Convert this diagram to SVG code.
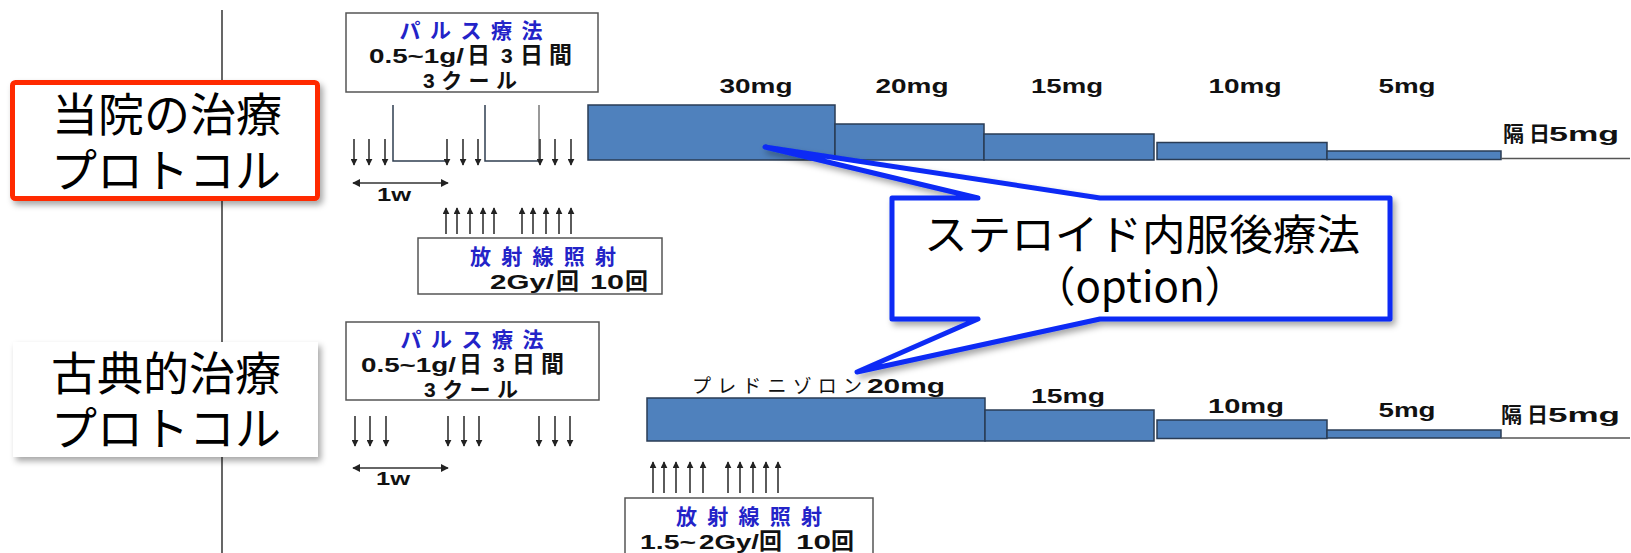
<svg xmlns="http://www.w3.org/2000/svg" width="1631" height="553" viewBox="0 0 1631 553">
<defs>
<style>
.big{font-family:"Noto Sans CJK JP","Noto Sans",sans-serif;font-size:46px;fill:#000;text-anchor:middle}
.call{font-family:"Noto Sans CJK JP","Noto Sans",sans-serif;font-size:42px;fill:#000;text-anchor:middle}
.lb{font-family:"Liberation Sans","Noto Sans CJK JP",sans-serif;font-weight:bold;font-size:21px;fill:#111;text-anchor:middle}
.mg{font-family:"Liberation Sans","Noto Sans CJK JP",sans-serif;font-weight:bold;font-size:20px;fill:#111;text-anchor:middle}
.lbs{font-family:"Liberation Sans","Noto Sans CJK JP",sans-serif;font-weight:bold;font-size:21px;fill:#111}
.cj{font-size:23px}
.jb{font-family:"Noto Sans CJK JP","Liberation Sans",sans-serif;font-weight:bold;font-size:21px;fill:#2323c8;text-anchor:middle}
.jr{font-family:"Noto Sans CJK JP",sans-serif;font-size:19px;fill:#111}
.box{fill:#fff;stroke:#555;stroke-width:1.5}
.bar{fill:#4f81bd;stroke:#2a3c55;stroke-width:1.5}
.base{stroke:#555;stroke-width:1.5;fill:none}
.arr{stroke:#333;stroke-width:1.6;fill:none}
.step{stroke:#2f3e50;stroke-width:1.5;fill:none}
</style>
<marker id="ah" viewBox="0 0 10 10" refX="9" refY="5" markerWidth="7" markerHeight="7" markerUnits="userSpaceOnUse" orient="auto">
<path d="M0,0 L10,5 L0,10 Z" fill="#222"/>
</marker>
<marker id="ah2" viewBox="0 0 10 10" refX="9" refY="5" markerWidth="8" markerHeight="8" markerUnits="userSpaceOnUse" orient="auto-start-reverse">
<path d="M0,0 L10,5 L0,10 Z" fill="#222"/>
</marker>
<filter id="sh" x="-10%" y="-20%" width="125%" height="150%">
<feDropShadow dx="3" dy="4" stdDeviation="3" flood-color="#000" flood-opacity="0.35"/>
</filter>
</defs>
<rect width="1631" height="553" fill="#fff"/>
<line x1="222" y1="10" x2="222" y2="553" stroke="#000" stroke-width="1.2"/>

<g id="label-current">
<rect x="12.5" y="82.5" width="305" height="116" rx="3" fill="#fff" stroke="#ff2a00" stroke-width="5" filter="url(#sh)"/>
<text class="big" x="167" y="131">当院の治療</text>
<text class="big" x="166" y="187">プロトコル</text>
</g>
<g id="label-classic">
<rect x="13" y="342" width="305" height="115" fill="#fff" filter="url(#sh)"/>
<text class="big" x="166" y="390">古典的治療</text>
<text class="big" x="166" y="445">プロトコル</text>
</g>

<g id="pulse-upper">
<rect class="box" x="346" y="13" width="252" height="79"/>
<text class="jb" x="471" y="38" textLength="143" lengthAdjust="spacing">パルス療法</text>
<text class="lbs" y="63"><tspan x="369" textLength="95" lengthAdjust="spacingAndGlyphs">0.5~1g/</tspan><tspan class="cj" x="467">日</tspan><tspan x="501">3</tspan><tspan class="cj" x="520">日</tspan><tspan class="cj" x="549">間</tspan></text>
<text class="lb" x="470" y="88" textLength="94" lengthAdjust="spacing">3クール</text>
</g>
<g id="pulse-lower">
<rect class="box" x="346" y="322" width="253" height="78"/>
<text class="jb" x="472" y="347" textLength="143" lengthAdjust="spacing">パルス療法</text>
<text class="lbs" y="372"><tspan x="361" textLength="95" lengthAdjust="spacingAndGlyphs">0.5~1g/</tspan><tspan class="cj" x="459">日</tspan><tspan x="493">3</tspan><tspan class="cj" x="512">日</tspan><tspan class="cj" x="541">間</tspan></text>
<text class="lb" x="471" y="397" textLength="94" lengthAdjust="spacing">3クール</text>
</g>

<g id="radiation-upper">
<rect class="box" x="418" y="238" width="244" height="56"/>
<text class="jb" x="543" y="264" textLength="146" lengthAdjust="spacing">放射線照射</text>
<text class="lbs" y="289"><tspan x="490" textLength="64" lengthAdjust="spacingAndGlyphs">2Gy/</tspan><tspan class="cj" x="556">回</tspan><tspan x="590" textLength="34" lengthAdjust="spacingAndGlyphs">10</tspan><tspan class="cj" x="625">回</tspan></text>
</g>
<g id="radiation-lower">
<rect class="box" x="625" y="498" width="248" height="70"/>
<text class="jb" x="749" y="524" textLength="146" lengthAdjust="spacing">放射線照射</text>
<text class="lbs" y="549"><tspan x="640" textLength="56" lengthAdjust="spacingAndGlyphs">1.5~</tspan><tspan x="699" textLength="60" lengthAdjust="spacingAndGlyphs">2Gy/</tspan><tspan class="cj" x="759">回</tspan><tspan x="796" textLength="35" lengthAdjust="spacingAndGlyphs">10</tspan><tspan class="cj" x="831">回</tspan></text>
</g>

<g id="steroid-upper">
<rect class="bar" x="588" y="105" width="247" height="55"/>
<rect class="bar" x="835" y="124" width="149" height="36"/>
<rect class="bar" x="984" y="134" width="170" height="26"/>
<rect class="bar" x="1157" y="142.5" width="170" height="17"/>
<rect class="bar" x="1327" y="151" width="174" height="8.5"/>
<line class="base" x1="1501" y1="158.5" x2="1630" y2="158.5"/>
<text class="mg" x="756" y="93" textLength="73" lengthAdjust="spacingAndGlyphs">30mg</text>
<text class="mg" x="912" y="93" textLength="73" lengthAdjust="spacingAndGlyphs">20mg</text>
<text class="mg" x="1067" y="93" textLength="72" lengthAdjust="spacingAndGlyphs">15mg</text>
<text class="mg" x="1245" y="93" textLength="73" lengthAdjust="spacingAndGlyphs">10mg</text>
<text class="mg" x="1407" y="93" textLength="57" lengthAdjust="spacingAndGlyphs">5mg</text>
<text class="lbs" y="141"><tspan x="1503">隔</tspan><tspan x="1529">日</tspan><tspan x="1549" textLength="70" lengthAdjust="spacingAndGlyphs">5mg</tspan></text>
</g>
<g id="steroid-lower">
<rect class="bar" x="647" y="398" width="338" height="43"/>
<rect class="bar" x="985" y="410" width="169" height="31"/>
<rect class="bar" x="1157" y="420" width="170" height="18.5"/>
<rect class="bar" x="1327" y="430" width="174" height="8"/>
<line class="base" x1="1501" y1="438" x2="1630" y2="438"/>
<text class="jr" x="692" y="393" textLength="170" lengthAdjust="spacing">プレドニゾロン</text>
<text class="mg" x="906" y="393" textLength="78" lengthAdjust="spacingAndGlyphs">20mg</text>
<text class="mg" x="1068" y="403" textLength="74" lengthAdjust="spacingAndGlyphs">15mg</text>
<text class="mg" x="1246" y="413" textLength="76" lengthAdjust="spacingAndGlyphs">10mg</text>
<text class="mg" x="1407" y="417" textLength="57" lengthAdjust="spacingAndGlyphs">5mg</text>
<text class="lbs" y="422"><tspan x="1501">隔</tspan><tspan x="1527">日</tspan><tspan x="1548" textLength="72" lengthAdjust="spacingAndGlyphs">5mg</tspan></text>
</g>

<g id="callout">
<path d="M892,198 L978,198 L765,147 L1100,198 L1390,198 L1390,319 L1100,319 L857,372 L978,319 L892,319 Z" fill="#fff" stroke="#0a2cf5" stroke-width="5" stroke-linejoin="round" filter="url(#sh)"/>
<text class="call" x="1142" y="250" textLength="436" lengthAdjust="spacingAndGlyphs">ステロイド内服後療法</text>
<text class="call" x="1140" y="302">（option）</text>
</g>

<g id="connectors">
<g class="step">
<path d="M393,105 V161 H447"/>
<path d="M485,105 V161 H539"/>
<path d="M539,105 V161" stroke="#777"/>
</g>
<g class="arr" marker-end="url(#ah)">
<line x1="354" y1="139" x2="354" y2="165"/>
<line x1="369" y1="139" x2="369" y2="165"/>
<line x1="385" y1="139" x2="385" y2="165"/>
<line x1="447" y1="139" x2="447" y2="165"/>
<line x1="463" y1="139" x2="463" y2="165"/>
<line x1="478" y1="139" x2="478" y2="165"/>
<line x1="540" y1="139" x2="540" y2="165"/>
<line x1="555" y1="139" x2="555" y2="165"/>
<line x1="571" y1="139" x2="571" y2="165"/>
<line x1="446" y1="234" x2="446" y2="208"/>
<line x1="457" y1="234" x2="457" y2="208"/>
<line x1="470" y1="234" x2="470" y2="208"/>
<line x1="483" y1="234" x2="483" y2="208"/>
<line x1="494" y1="234" x2="494" y2="208"/>
<line x1="522" y1="234" x2="522" y2="208"/>
<line x1="533" y1="234" x2="533" y2="208"/>
<line x1="546" y1="234" x2="546" y2="208"/>
<line x1="559" y1="234" x2="559" y2="208"/>
<line x1="571" y1="234" x2="571" y2="208"/>
<line x1="355" y1="416" x2="355" y2="446"/>
<line x1="370" y1="416" x2="370" y2="446"/>
<line x1="386" y1="416" x2="386" y2="446"/>
<line x1="448" y1="416" x2="448" y2="446"/>
<line x1="464" y1="416" x2="464" y2="446"/>
<line x1="479" y1="416" x2="479" y2="446"/>
<line x1="539" y1="416" x2="539" y2="446"/>
<line x1="555" y1="416" x2="555" y2="446"/>
<line x1="570" y1="416" x2="570" y2="446"/>
<line x1="653" y1="493" x2="653" y2="462"/>
<line x1="664" y1="493" x2="664" y2="462"/>
<line x1="676" y1="493" x2="676" y2="462"/>
<line x1="690" y1="493" x2="690" y2="462"/>
<line x1="703" y1="493" x2="703" y2="462"/>
<line x1="728" y1="493" x2="728" y2="462"/>
<line x1="740" y1="493" x2="740" y2="462"/>
<line x1="753" y1="493" x2="753" y2="462"/>
<line x1="766" y1="493" x2="766" y2="462"/>
<line x1="778" y1="493" x2="778" y2="462"/>
</g>
<line class="arr" x1="353" y1="183" x2="448" y2="183" marker-start="url(#ah2)" marker-end="url(#ah2)"/>
<line class="arr" x1="353" y1="468" x2="448" y2="468" marker-start="url(#ah2)" marker-end="url(#ah2)"/>
<text class="mg" x="394" y="201" style="font-size:18px" textLength="34" lengthAdjust="spacingAndGlyphs">1w</text>
<text class="mg" x="393" y="485" style="font-size:18px" textLength="34" lengthAdjust="spacingAndGlyphs">1w</text>
</g>
</svg>
